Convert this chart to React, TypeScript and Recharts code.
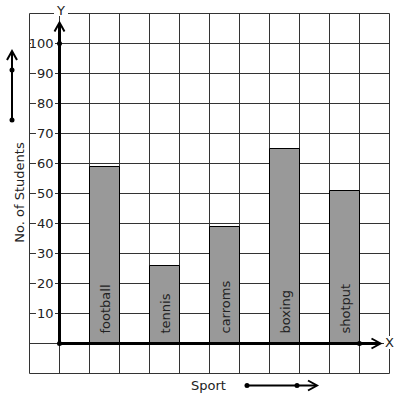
import React from 'react';
import {
  ComposedChart,
  Bar,
  XAxis,
  YAxis,
  CartesianGrid,
  ReferenceLine,
  ReferenceDot,
  LabelList,
} from 'recharts';

const sports = ['football', 'tennis', 'carroms', 'boxing', 'shotput'];
const students = [59, 26, 39, 65, 51];
const yTicks = [-10, 0, 10, 20, 30, 40, 50, 60, 70, 80, 90, 100, 110];
const yLabelTicks = [10, 20, 30, 40, 50, 60, 70, 80, 90, 100];
const gridXTicks = [-1, 0, 1, 2, 3, 4, 5, 6, 7, 8, 9, 10, 11];

// each sport sits in every other grid cell, starting at the cell [1, 2]
const data = sports.map((sport, i) => ({ sport, students: students[i], pos: 1.5 + 2 * i }));

const FONT = 'DejaVu Sans, sans-serif';
const TEXT = '#222';
const GRID = '#333';

const W = 397;
const H = 399;
const MARGIN = { top: 13.5, right: 7.5, bottom: 25.5, left: 28.5 };

const YTick = (props: any) => {
  const { y, payload } = props;
  const v = payload?.value;
  if (!yLabelTicks.includes(v)) return <g />;
  const s = String(v);
  const tw = s.length * 8.27;
  const right = 53.5;
  const rx = Math.max(31, right - tw - 1);
  return (
    <g>
      <rect x={rx} y={y - 6} width={55 - rx} height={12} fill="#fff" />
      <text
        x={right}
        y={y}
        textAnchor="end"
        dominantBaseline="central"
        fontFamily={FONT}
        fontSize={13}
        fill={TEXT}
      >
        {s}
      </text>
    </g>
  );
};

const arrowLine = (props: any) => {
  const { x1, y1, x2, y2 } = props;
  const dx = x2 - x1;
  const dy = y2 - y1;
  const len = Math.sqrt(dx * dx + dy * dy) || 1;
  const ux = dx / len;
  const uy = dy / len;
  const px = -uy;
  const py = ux;
  const back = 9;
  const half = 5;
  const a1x = x2 - ux * back + px * half;
  const a1y = y2 - uy * back + py * half;
  const a2x = x2 - ux * back - px * half;
  const a2y = y2 - uy * back - py * half;
  return (
    <g>
      <line x1={x1} y1={y1} x2={x2 - ux * 1.5} y2={y2 - uy * 1.5} stroke="#000" strokeWidth={3} />
      <polyline
        points={`${a1x},${a1y} ${x2},${y2} ${a2x},${a2y}`}
        fill="none"
        stroke="#000"
        strokeWidth={2}
      />
    </g>
  );
};

const BarLabel = (props: any) => {
  const { x, y, width, height, value } = props;
  if (!value) return null;
  const cx = x + width / 2 + 5;
  const by = y + height - 10;
  return (
    <text
      x={cx}
      y={by}
      transform={`rotate(-90, ${cx}, ${by})`}
      textAnchor="start"
      fontFamily={FONT}
      fontSize={13}
      fill={TEXT}
    >
      {value}
    </text>
  );
};

export default function App() {
  return (
    <div style={{ position: 'absolute', left: 0, top: 0, width: W, height: H, background: '#fff' }}>
      <ComposedChart width={W} height={H} data={data} margin={MARGIN}>
        <XAxis
          dataKey="pos"
          type="number"
          domain={[-1, 11]}
          ticks={gridXTicks}
          allowDataOverflow
          hide
        />
        <YAxis
          type="number"
          domain={[-10, 110]}
          ticks={yTicks}
          allowDataOverflow
          width={1}
          axisLine={false}
          tickLine={false}
          tick={YTick}
          interval={0}
        />
        <CartesianGrid stroke={GRID} strokeWidth={1} />
        <Bar
          dataKey="students"
          barSize={30}
          fill="#999999"
          stroke="#000"
          strokeWidth={1}
          isAnimationActive={false}
        >
          <LabelList dataKey="sport" content={BarLabel} />
        </Bar>
        <ReferenceLine
          segment={[
            { x: 0, y: 0 },
            { x: 0, y: 107 },
          ]}
          shape={arrowLine}
        />
        <ReferenceLine
          segment={[
            { x: 0, y: 0 },
            { x: 10.7, y: 0 },
          ]}
          shape={arrowLine}
        />
        <ReferenceDot x={0} y={0} r={2.5} fill="#000" stroke="none" />
        <ReferenceDot x={0} y={100} r={2.5} fill="#000" stroke="none" />
        <ReferenceDot x={10} y={0} r={2.5} fill="#000" stroke="none" />
      </ComposedChart>
      <svg
        width={W}
        height={H}
        style={{ position: 'absolute', left: 0, top: 0, pointerEvents: 'none' }}
      >
        {/* Y label */}
        <rect x={54} y={2} width={14} height={14} fill="#fff" />
        <text x={61} y={15} textAnchor="middle" fontFamily={FONT} fontSize={13} fill={TEXT}>
          Y
        </text>
        {/* X label */}
        <rect x={384} y={336} width={10} height={13} fill="#fff" />
        <text x={385} y={347} fontFamily={FONT} fontSize={13} fill={TEXT}>
          X
        </text>
        {/* Axis titles */}
        <text
          x={24}
          y={192.5}
          transform="rotate(-90, 24, 192.5)"
          textAnchor="middle"
          fontFamily={FONT}
          fontSize={13}
          fill={TEXT}
        >
          No. of Students
        </text>
        <text x={191} y={390} fontFamily={FONT} fontSize={13} fill={TEXT}>
          Sport
        </text>
        {/* left decorative arrow */}
        <line x1={12} y1={120} x2={12} y2={52} stroke="#000" strokeWidth={2} />
        <polyline points="7,60 12,51 17,60" fill="none" stroke="#000" strokeWidth={2} />
        <circle cx={12} cy={70} r={2.5} fill="#000" />
        <circle cx={12} cy={120} r={2.5} fill="#000" />
        {/* bottom decorative arrow */}
        <line x1={247} y1={385.5} x2={316} y2={385.5} stroke="#000" strokeWidth={2} />
        <polyline points="308,380.5 317,385.5 308,390.5" fill="none" stroke="#000" strokeWidth={2} />
        <circle cx={247} cy={385.5} r={2.5} fill="#000" />
        <circle cx={297} cy={385.5} r={2.5} fill="#000" />
      </svg>
    </div>
  );
}
